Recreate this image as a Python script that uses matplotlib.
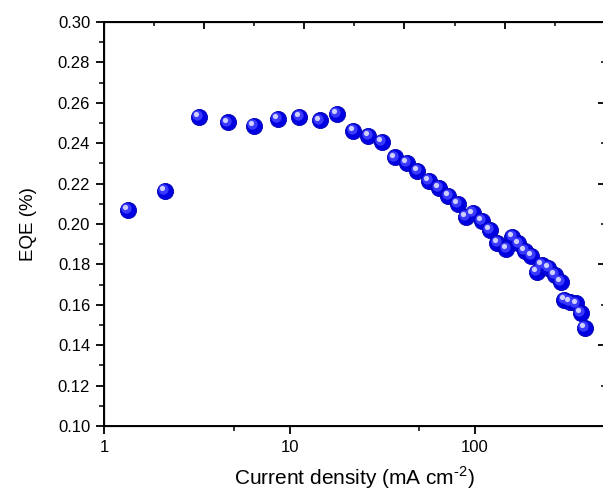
import matplotlib
matplotlib.use('Agg')
import matplotlib.pyplot as plt
from matplotlib.ticker import MultipleLocator, FixedLocator, NullFormatter
from matplotlib.transforms import offset_copy

plt.rcParams['font.family'] = ['Liberation Sans', 'DejaVu Sans']
plt.rcParams['mathtext.fontset'] = 'custom'
plt.rcParams['mathtext.rm'] = 'Liberation Sans'

# EQE vs current density
current_density = [1.35, 2.13, 3.24, 4.66, 6.4, 8.65, 11.3, 14.5, 18.0, 22.1,
                   26.6, 31.5, 37.1, 42.7, 48.9, 56.1, 64.0, 71.8, 80.7, 89.1,
                   97.5, 108.6, 120, 131.8, 147.4, 158.8, 171, 185, 201, 216,
                   230, 248, 269, 289, 303, 324, 351, 370, 389]
eqe = [0.2069, 0.2163, 0.2531, 0.2503, 0.2485, 0.2521, 0.2530, 0.2513, 0.2546, 0.2462,
       0.2437, 0.2407, 0.2330, 0.2303, 0.2264, 0.2214, 0.2177, 0.2140, 0.2099, 0.2036,
       0.2053, 0.2015, 0.1970, 0.1907, 0.1875, 0.1937, 0.1904, 0.1868, 0.1842, 0.1764,
       0.1797, 0.1781, 0.1748, 0.1714, 0.1624, 0.1615, 0.1607, 0.1558, 0.1487]

fig = plt.figure(figsize=(6.03, 4.97), dpi=100)
ax = fig.add_axes([0.1725, 0.1429, 1.003 - 0.1725, 0.9557 - 0.1429])

# shaded "ball" markers: base + lighter layers shifted to upper-left
ax.scatter(current_density, eqe, s=135, color='#0000e0', edgecolors='#0000b0',
           linewidths=0.6, zorder=3)
ax.scatter(current_density, eqe, s=55, color='#3a3aff', linewidths=0,
           transform=offset_copy(ax.transData, fig=fig, x=-1.3, y=1.3, units='points'), zorder=4)
ax.scatter(current_density, eqe, s=14, color='#d0d0ff', linewidths=0,
           transform=offset_copy(ax.transData, fig=fig, x=-2.0, y=2.0, units='points'), zorder=5)

ax.set_xscale('log')
ax.set_xlim(1, 500)
ax.set_ylim(0.10, 0.30)
ax.xaxis.set_major_locator(FixedLocator([1, 10, 100]))
ax.xaxis.set_minor_locator(FixedLocator([5, 50]))
ax.xaxis.set_minor_formatter(NullFormatter())
ax.set_xticklabels(['1', '10', '100'])
ax.yaxis.set_major_locator(MultipleLocator(0.02))
ax.yaxis.set_minor_locator(MultipleLocator(0.01))
ax.yaxis.set_major_formatter(plt.FormatStrFormatter('%.2f'))

for s in ax.spines.values():
    s.set_linewidth(1.4)
ax.tick_params(which='major', direction='out', length=6, width=1.3, labelsize=12, pad=4)
ax.tick_params(which='minor', direction='out', length=3.5, width=1.1)

ax.set_xlabel('Current density (mA cm$^{\\text{-}2}$)', fontsize=15, labelpad=7)
ax.set_ylabel('EQE (%)', fontsize=13.5, labelpad=15)

# unlabelled top and right axes, linear ticks pointing inward
top = ax.twiny()
top.set_xlim(0, 1)
top.xaxis.set_major_locator(FixedLocator([0.2, 0.4, 0.6, 0.8, 1.0]))
top.xaxis.set_minor_locator(FixedLocator([0.1, 0.3, 0.5, 0.7, 0.9]))
top.tick_params(which='major', direction='in', length=5, width=1.3, labeltop=False)
top.tick_params(which='minor', direction='in', length=3, width=1.1)

right = ax.twinx()
right.set_ylim(0, 1)
right.yaxis.set_major_locator(FixedLocator([0.2, 0.4, 0.6, 0.8]))
right.yaxis.set_minor_locator(FixedLocator([0.1, 0.3, 0.5, 0.7, 0.9]))
right.tick_params(which='major', direction='in', length=5, width=1.3, labelright=False)
right.tick_params(which='minor', direction='in', length=3, width=1.1)

fig.savefig('out.png', dpi=100)
